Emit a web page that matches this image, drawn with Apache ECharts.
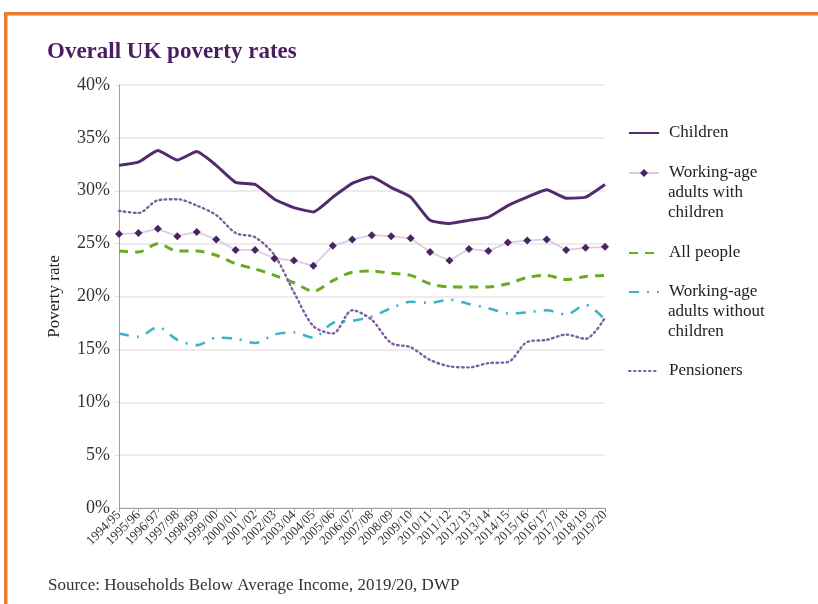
<!DOCTYPE html>
<html>
<head>
<meta charset="utf-8">
<script src="https://cdn.jsdelivr.net/npm/echarts@6/dist/echarts.min.js"></script>
<style>
  html, body { margin: 0; padding: 0; background: #ffffff; }
  #chart { width: 818px; height: 604px; }
</style>
</head>
<body>
<div id="chart"></div>
<script>
// Financial years on the x axis
var years = ['1994/95','1995/96','1996/97','1997/98','1998/99','1999/00','2000/01','2001/02',
  '2002/03','2003/04','2004/05','2005/06','2006/07','2007/08','2008/09','2009/10','2010/11',
  '2011/12','2012/13','2013/14','2014/15','2015/16','2016/17','2017/18','2018/19','2019/20'];

// Poverty rates (%)
var children = [32.4, 32.7, 33.8, 32.9, 33.7, 32.4, 30.8, 30.6, 29.2, 28.4, 28.0, 29.4, 30.7, 31.3,
  30.3, 29.4, 27.2, 26.9, 27.2, 27.5, 28.6, 29.4, 30.1, 29.3, 29.4, 30.6];
var adultsWithChildren = [25.9, 26.0, 26.4, 25.7, 26.1, 25.4, 24.4, 24.4, 23.6, 23.4, 22.9, 24.8,
  25.4, 25.8, 25.7, 25.5, 24.2, 23.4, 24.5, 24.3, 25.1, 25.3, 25.4, 24.4, 24.6, 24.7];
var allPeople = [24.3, 24.2, 25.0, 24.3, 24.3, 23.9, 23.1, 22.6, 22.0, 21.3, 20.5, 21.5, 22.3, 22.4,
  22.2, 22.0, 21.2, 20.9, 20.9, 20.9, 21.2, 21.8, 22.0, 21.6, 21.9, 22.0];
var adultsWithoutChildren = [16.5, 16.2, 17.1, 15.9, 15.4, 16.1, 16.0, 15.6, 16.4, 16.6, 16.1, 17.5,
  17.7, 18.1, 18.9, 19.5, 19.4, 19.7, 19.3, 18.9, 18.4, 18.5, 18.7, 18.3, 19.2, 17.8];
var pensioners = [28.1, 27.9, 29.1, 29.2, 28.6, 27.7, 26.0, 25.6, 23.9, 20.4, 17.2, 16.5, 18.7, 17.8,
  15.6, 15.2, 14.0, 13.4, 13.3, 13.7, 13.8, 15.7, 15.9, 16.4, 16.0, 18.0];

var yTicks = { min: 0, max: 40, step: 5 };

var serif = '"Liberation Serif", "DejaVu Serif", serif';
var textColor = '#333333';

var C = {
  children: '#532a6f',
  marker: '#4b2466',
  markerLine: '#d9cde3',
  all: '#6aaa1e',
  noKids: '#3ab4c6',
  pens: '#7d5ea0'
};

var names = ['Children', 'Working-age adults with children', 'All people',
  'Working-age adults without children', 'Pensioners'];

// one legend block per series so that each sits at its own height
function legendBlock(name, label, top, hideSymbol) {
  var block = {
    data: [name],
    left: 628,
    top: top,
    padding: 0,
    itemWidth: 30,
    itemHeight: 10,
    itemGap: 0,
    selectedMode: false,
    formatter: function () { return label; },
    textStyle: { fontFamily: serif, fontSize: 17, color: '#222222', lineHeight: 20, padding: [0, 0, 0, 5] }
  };
  if (hideSymbol) {
    block.itemStyle = { opacity: 0 };
  }
  return block;
}

var chart = echarts.init(document.getElementById('chart'), null, { renderer: 'canvas' });

chart.setOption({
  backgroundColor: '#ffffff',
  animation: false,
  title: {
    text: 'Overall UK poverty rates',
    left: 42,
    top: 36,
    textStyle: { fontFamily: serif, fontSize: 23, fontWeight: 'bold', color: '#4a1d62' }
  },
  legend: [
    legendBlock(names[0], 'Children', 123, true),
    legendBlock(names[1], 'Working-age', 163, false),
    legendBlock(names[2], 'All people', 243, true),
    legendBlock(names[3], 'Working-age', 282, true),
    legendBlock(names[4], 'Pensioners', 361, true)
  ],
  grid: { left: 119, right: 213, top: 85, bottom: 96, containLabel: false },
  xAxis: {
    type: 'category',
    data: years,
    boundaryGap: false,
    axisLine: { lineStyle: { color: '#a0a0a0', width: 1 } },
    axisTick: { show: true, alignWithLabel: true, length: 4, lineStyle: { color: '#a0a0a0' } },
    axisLabel: {
      interval: 0,
      rotate: 45,
      margin: 5,
      fontFamily: serif,
      fontSize: 13,
      color: textColor
    },
    splitLine: { show: false }
  },
  yAxis: {
    type: 'value',
    min: yTicks.min,
    max: yTicks.max,
    interval: yTicks.step,
    name: 'Poverty rate',
    nameLocation: 'middle',
    nameGap: 56,
    nameRotate: 90,
    nameTextStyle: { fontFamily: serif, fontSize: 17, color: '#222222' },
    axisLine: { show: true, lineStyle: { color: '#a0a0a0', width: 1 } },
    axisTick: { show: true, length: 4, lineStyle: { color: '#e4e4e4' } },
    axisLabel: {
      formatter: '{value}%',
      margin: 9,
      fontFamily: serif,
      fontSize: 18,
      color: textColor
    },
    splitLine: { show: true, lineStyle: { color: '#e6e6e6', width: 1.5 } }
  },
  series: [
    {
      name: names[0],
      type: 'line',
      data: children,
      symbol: 'none',
      smooth: 0.15,
      lineStyle: { color: C.children, width: 3 },
      itemStyle: { color: C.children },
      z: 5
    },
    {
      name: names[1],
      type: 'line',
      data: adultsWithChildren,
      symbol: 'diamond',
      symbolSize: 8,
      showSymbol: true,
      lineStyle: { color: C.markerLine, width: 1.8 },
      itemStyle: { color: C.marker, borderWidth: 0 },
      z: 4
    },
    {
      name: names[2],
      type: 'line',
      data: allPeople,
      symbol: 'none',
      smooth: 0.3,
      lineStyle: { color: C.all, width: 3, type: [9, 7] },
      itemStyle: { color: C.all },
      z: 3
    },
    {
      name: names[3],
      type: 'line',
      data: adultsWithoutChildren,
      symbol: 'none',
      smooth: 0.3,
      lineStyle: { color: C.noKids, width: 2.6, type: [10, 8, 2, 8] },
      itemStyle: { color: C.noKids },
      z: 3
    },
    {
      name: names[4],
      type: 'line',
      data: pensioners,
      symbol: 'none',
      smooth: 0.3,
      lineStyle: { color: C.pens, width: 2.4, type: [1.5, 3.5], cap: 'round' },
      itemStyle: { color: C.pens },
      z: 3
    }
  ],
  graphic: [
    // orange frame along the top and left edges
    { type: 'rect', shape: { x: 4, y: 12, width: 814, height: 3.5 }, style: { fill: '#ec7d31' }, silent: true },
    { type: 'rect', shape: { x: 4, y: 12, width: 3.5, height: 592 }, style: { fill: '#ec7d31' }, silent: true },
    // continuation lines of the two-line legend labels
    { type: 'text', left: 668, top: 183, style: { text: 'adults with\nchildren', font: '17px ' + serif, fill: '#222222', lineHeight: 20 } },
    { type: 'text', left: 668, top: 302, style: { text: 'adults without\nchildren', font: '17px ' + serif, fill: '#222222', lineHeight: 20 } },
    // source note
    { type: 'text', left: 48, top: 577, style: { text: 'Source: Households Below Average Income, 2019/20, DWP', font: '17px ' + serif, fill: '#333333' } }
  ]
});
</script>
</body>
</html>
